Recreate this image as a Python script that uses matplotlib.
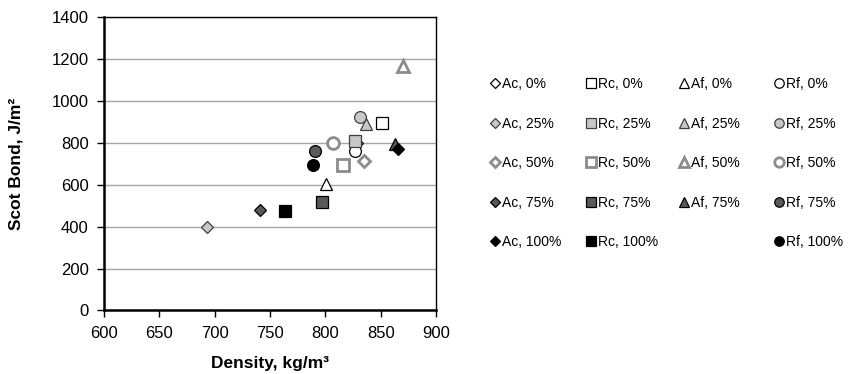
import matplotlib.pyplot as plt

plt.rcParams["font.family"] = ["Liberation Sans", "DejaVu Sans"]

# Series data (density kg/m3, Scot bond J/m2)
labels = ["Ac, 0%", "Rc, 0%", "Af, 0%", "Rf, 0%",
          "Ac, 25%", "Rc, 25%", "Af, 25%", "Rf, 25%",
          "Ac, 50%", "Rc, 50%", "Af, 50%", "Rf, 50%",
          "Ac, 75%", "Rc, 75%", "Af, 75%", "Rf, 75%",
          "Ac, 100%", "Rc, 100%", "Rf, 100%"]
density = [829, 851, 801, 827,
           693, 827, 837, 831,
           835, 816, 870, 807,
           741, 797, 863, 791,
           866, 764, 789]
bond = [800, 895, 605, 761,
        398, 809, 890, 924,
        713, 694, 1168, 801,
        481, 518, 793, 764,
        772, 474, 693]

# Style lookup
shape = {"Ac": "D", "Rc": "s", "Af": "^", "Rf": "o"}
msize = {"Ac": 6.0, "Rc": 8.5, "Af": 8.5, "Rf": 8.5}
level_style = {
    "0%":   dict(mfc="white", mec="black", mew=0.9),
    "25%":  dict(mfc="#c8c8c8", mec="#404040", mew=0.9),
    "50%":  dict(mfc="white", mec="#8c8c8c", mew=2.0),
    "75%":  dict(mfc="#595959", mec="black", mew=0.9),
    "100%": dict(mfc="black", mec="black", mew=0.9),
}

fig = plt.figure(figsize=(8.54, 3.74), dpi=100)
ax = fig.add_axes([0.1218, 0.1698, 0.3887, 0.7839])

handles = {}
for lab, x, y in zip(labels, density, bond):
    kind, lvl = lab.split(", ")
    st = level_style[lvl]
    h, = ax.plot([x], [y], linestyle="none", marker=shape[kind],
                 markersize=msize[kind], label=lab, zorder=3, **st)
    handles[lab] = h

ax.set_xlim(600, 900)
ax.set_ylim(0, 1400)
ax.set_xticks(range(600, 901, 50))
ax.set_yticks(range(0, 1401, 200))
ax.tick_params(axis="both", labelsize=12, direction="out", length=5,
               width=1, color="black")
ax.tick_params(axis="y", pad=6)
ax.tick_params(axis="x", pad=6)
ax.grid(axis="y", color="#a6a6a6", linewidth=1)
ax.set_axisbelow(True)
for sp in ax.spines.values():
    sp.set_color("black")
    sp.set_linewidth(1)
ax.spines["left"].set_linewidth(1.8)
ax.spines["bottom"].set_linewidth(1.8)

ax.set_xlabel("Density, kg/m³", fontsize=12.5, fontweight="bold", labelpad=11)
ax.set_ylabel("Scot Bond, J/m²", fontsize=12.5, fontweight="bold", labelpad=20)

# Legend: one column per material group, like the Excel grid
cols = ["Ac", "Rc", "Af", "Rf"]
levels = ["0%", "25%", "50%", "75%", "100%"]
col_x = [490, 586, 679, 774]   # left edge of each legend column, px
for c, px in zip(cols, col_x):
    hs, ls = [], []
    for lv in levels:
        key = f"{c}, {lv}"
        if key in handles:
            hs.append(handles[key])
            ls.append(key)
    leg = fig.legend(hs, ls, loc="upper left",
                     bbox_to_anchor=(px / 854, 1 - 77 / 374),
                     frameon=False, fontsize=10, borderpad=0,
                     borderaxespad=0, handlelength=0.7, handletextpad=0.15,
                     labelspacing=1.84, markerscale=0.8)

plt.savefig("out.png", dpi=100)
